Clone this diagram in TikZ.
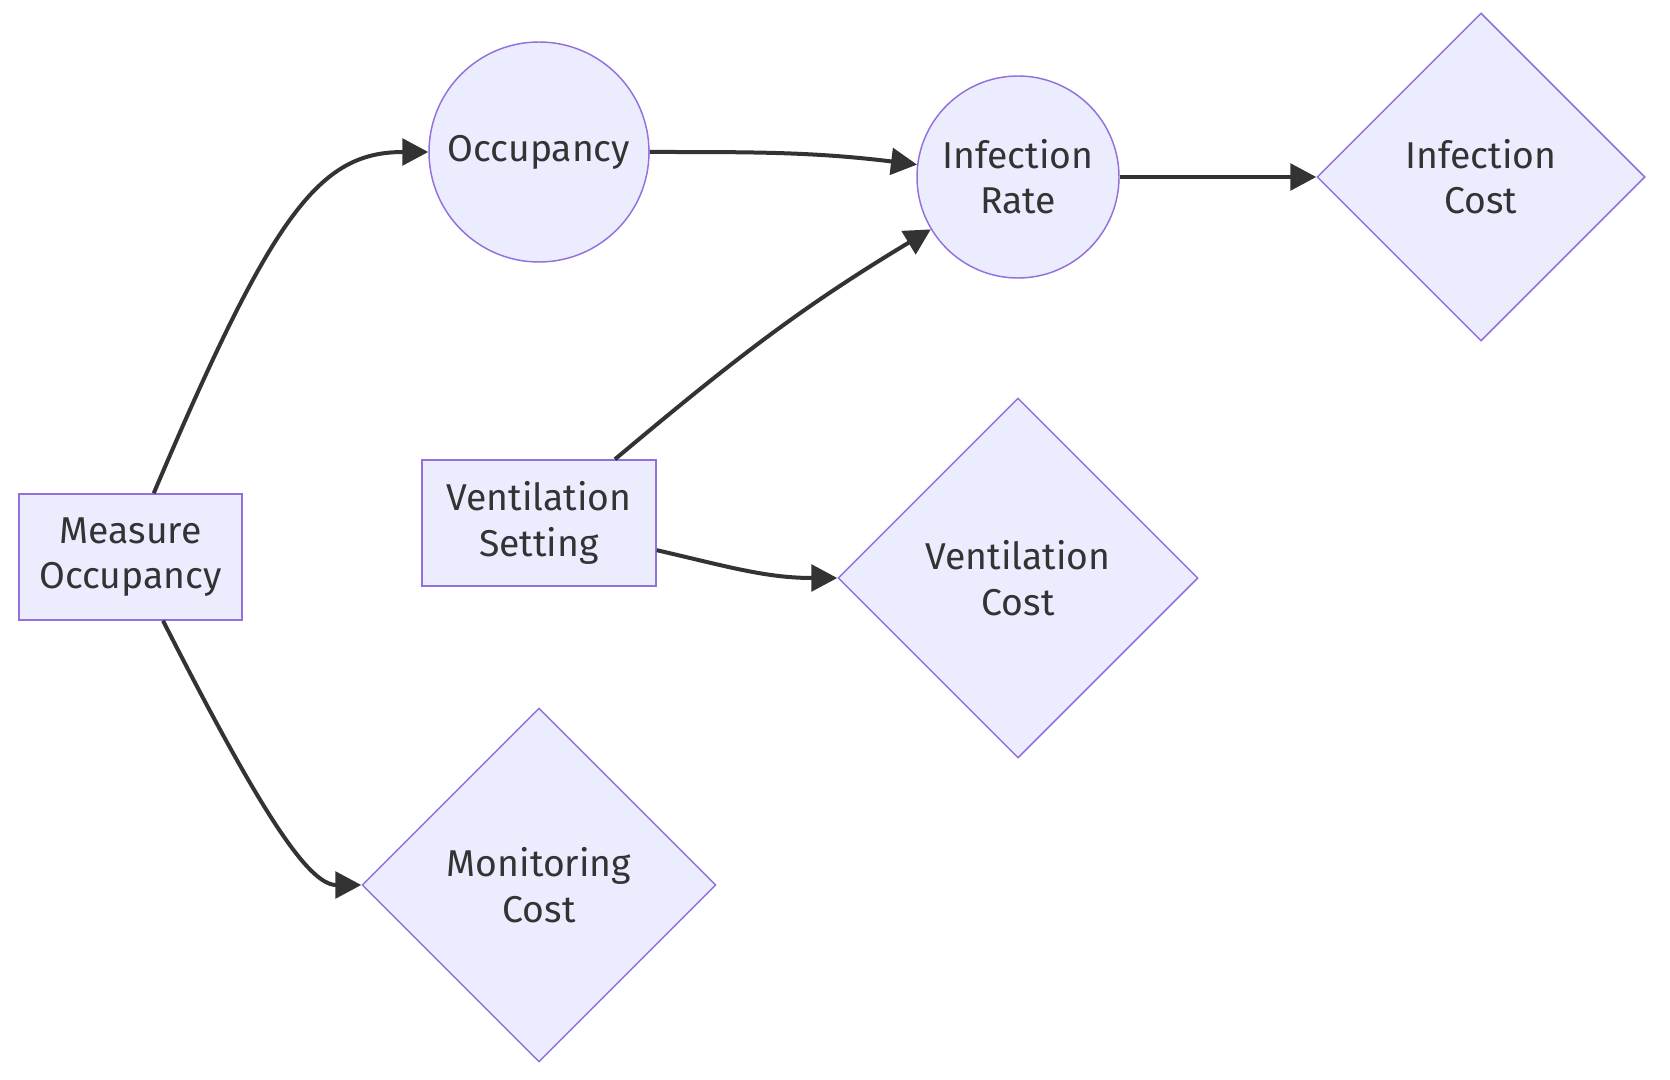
\documentclass[tikz,border=0pt]{standalone}
\usepackage{fontspec}
\setmainfont{Fira Sans}
\usetikzlibrary{arrows.meta,positioning,shapes.geometric}
\definecolor{nodefill}{HTML}{ECECFF}
\definecolor{nodeline}{HTML}{9370DB}
\definecolor{ink}{HTML}{333333}
\tikzset{>/.tip={Triangle[length=19.5pt,width=20pt]}}
\tikzset{box/.style={draw=nodeline,fill=nodefill,line width=1.1pt,align=center,text=ink,inner sep=0pt}}
\tikzset{act/.style={box,rectangle,minimum height=94.5pt}}
\tikzset{var/.style={box,circle}}
\tikzset{cost/.style={box,diamond,aspect=1}}
\tikzset{flow/.style={->,draw=ink,line width=3pt}}

\begin{document}
\begin{tikzpicture}[x=0.75pt,y=0.75pt,on grid,font=\fontsize{28}{34}\selectfont]
        \useasboundingbox (0,0) rectangle (1670,-1080);
        \node(occ)[var,minimum size=165pt] at (539,-152) {Occupancy};
        \node(ir)[var,minimum size=151.5pt,below right=18.75pt and 359.25pt of occ]{Infection\\Rate};
        \node(ic)[cost,minimum size=246pt,right=347.25pt of ir]{Infection\\Cost};
        \node(vs)[act,minimum width=175.5pt,below=278.25pt of occ]{Ventilation\\Setting};
        \node(vc)[cost,minimum size=270pt,below=300.75pt of ir]{Ventilation\\Cost};
        \node(mc)[cost,minimum size=265.5pt,below=549.75pt of occ]{Monitoring\\Cost};
        \node(mo)[act,minimum width=167pt,below left=25.5pt and 306.35pt of vs]{Measure\\Occupancy};
        \draw[flow] (mo.70) .. controls +(67:305) and +(-109,0) .. (occ.west);
        \draw[flow] (mo.-63) .. controls +(-63:214) and +(-53,0) .. (mc.west);
        \path
        (occ.east) edge[flow,out=0,in=173] (ir)
        (vs.40) edge[flow,out=40,in=211] (ir)
        (ir) edge[flow] (ic)
        (vs.-13) edge[flow,out=-13,in=180] (vc.west);
      \end{tikzpicture}
\end{document}
